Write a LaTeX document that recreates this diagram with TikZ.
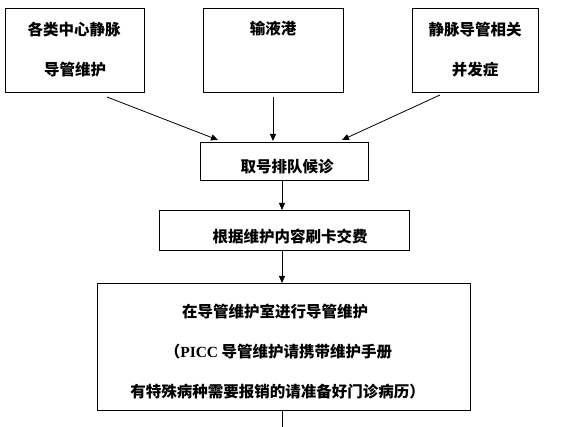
\documentclass[tikz,border=0pt]{standalone}
\usepackage{fontspec}
\newfontfamily\cjk{Noto Sans CJK SC}
\newfontfamily\tnr{Liberation Serif}
\usetikzlibrary{arrows.meta}
\tikzset{
  box/.style={draw,line width=0.9pt,rectangle,inner sep=0pt},
  lbl/.style={inner sep=0pt,font=\cjk\bfseries\fontsize{15.5}{15.5}\selectfont},
  conn/.style={line width=0.8pt,-{Triangle[length=7pt,width=6pt]}},
}
\begin{document}
\begin{tikzpicture}[x=1pt,y=-1pt]
\useasboundingbox (0,0) rectangle (565,427);
% boxes
\node[box,minimum width=139pt,minimum height=84pt] (b1) at (74.5,50) {};
\node[box,minimum width=140pt,minimum height=84pt] (b2) at (273,50) {};
\node[box,minimum width=126pt,minimum height=84pt] (b3) at (475,50) {};
\node[box,minimum width=168pt,minimum height=38pt] (b4) at (284,161) {};
\node[box,minimum width=250pt,minimum height=40pt] (b5) at (284,230) {};
\node[box,minimum width=373pt,minimum height=127pt] (b6) at (283.5,346.5) {};
% texts
\node[lbl] (t1a) at (74,30) {各类中心静脉};
\node[lbl] (t1b) at (75,70) {导管维护};
\node[lbl] (t2) at (273,29) {输液港};
\node[lbl] (t3a) at (475,30) {静脉导管相关};
\node[lbl] (t3b) at (475,70) {并发症};
\node[lbl] (t4) at (287,167) {取号排队候诊};
\node[lbl] (t5) at (290,237) {根据维护内容刷卡交费};
\node[lbl] (t6a) at (275,312) {在导管维护室进行导管维护};
\node[lbl] (t6b) at (278.5,352) {（{\tnr\bfseries PICC} 导管维护请携带维护手册};
\node[lbl] (t6c) at (277.5,392) {有特殊病种需要报销的请准备好门诊病历）};
% connector end points
\coordinate (s1) at (107,97);
\coordinate (e1) at (218,140);
\coordinate (s2) at (273,97);
\coordinate (e2) at (273,141);
\coordinate (s3) at (440,95);
\coordinate (e3) at (342,140);
\coordinate (s4) at (282,180);
\coordinate (e4) at (282,210);
\coordinate (s5) at (282,250);
\coordinate (e5) at (282,283);
\coordinate (s6) at (282,410);
\coordinate (e6) at (282,427);
% connectors
\draw[conn] (s1) -- (e1);
\draw[conn] (s2) -- (e2);
\draw[conn] (s3) -- (e3);
\draw[conn] (s4) -- (e4);
\draw[conn] (s5) -- (e5);
\draw[line width=0.8pt] (s6) -- (e6);
\end{tikzpicture}
\end{document}
